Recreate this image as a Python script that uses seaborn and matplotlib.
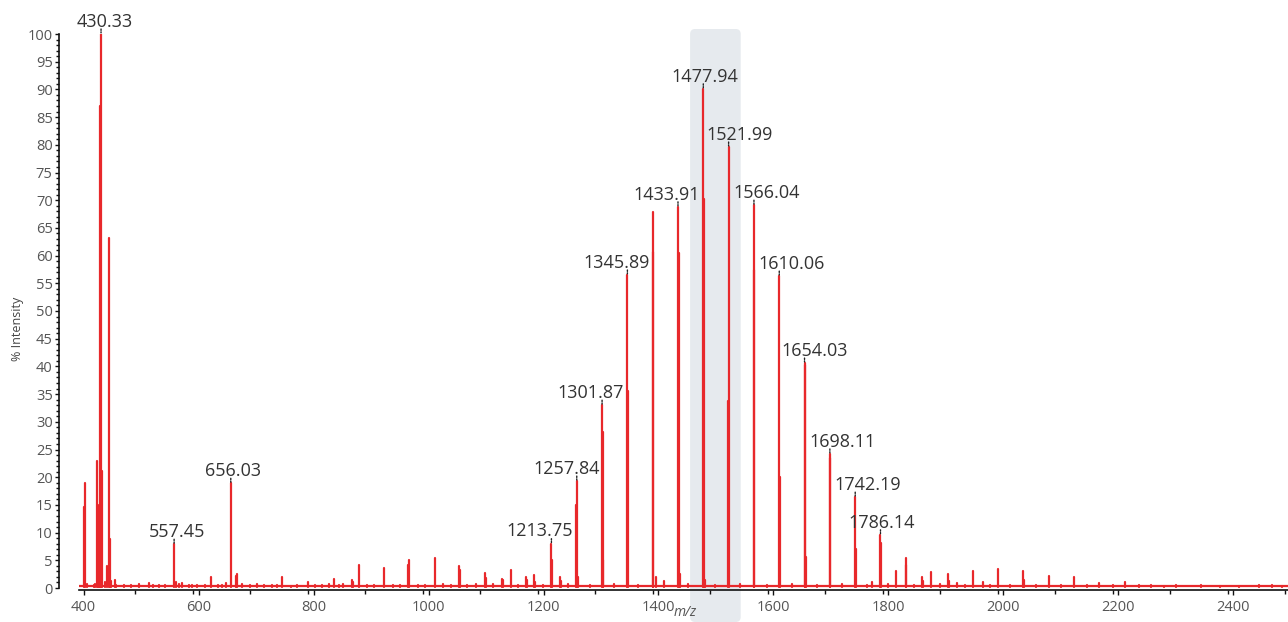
import numpy as np
import pandas as pd
import matplotlib
matplotlib.use("Agg")
import matplotlib.pyplot as plt
import seaborn as sns
from matplotlib.patches import FancyBboxPatch
from matplotlib.ticker import MultipleLocator, FixedLocator
import matplotlib.transforms as mtransforms

sns.set_theme(style="white")
plt.rcParams["font.family"] = ["Open Sans", "DejaVu Sans"]

# ---- spectrum peaks: m/z and % intensity ----
peak_mz = [
    401.0, 403.3, 405.5, 418.0, 420.5, 423.3, 425.4, 427.5, 429.2, 430.33,
    432.6, 436.5, 441.0, 443.6, 445.6, 448.0, 454.0, 457.0,
    514.5, 520.0, 557.45, 560.0, 566.5, 572.0, 589.0, 612.0, 622.0, 640.0,
    648.0, 656.03, 664.5, 666.3, 702.0, 728.0, 745.0, 760.0, 790.2,
    826.7, 834.8, 845.0, 867.3, 869.0, 878.3, 922.3, 964.8, 966.3, 981.4,
    1010.4, 1052.7, 1054.2, 1083.0, 1098.6, 1100.0, 1127.5, 1129.0, 1142.6,
    1169.9, 1171.5, 1184.3, 1186.0, 1213.75, 1215.0, 1228.5, 1230.0,
    1256.5, 1257.84, 1260.0,
    1301.87, 1302.9, 1304.0, 1345.89, 1346.9, 1389.9, 1390.9, 1396.0,
    1433.91, 1434.9, 1438.0, 1477.94, 1478.9, 1481.0, 1520.9, 1521.99,
    1566.04, 1567.0, 1610.06, 1611.0, 1654.03, 1655.0, 1657.0,
    1698.11, 1699.1, 1742.19, 1743.2, 1771.6, 1786.14, 1787.3,
    1813.0, 1829.8, 1831.0, 1858.0, 1859.5, 1874.0, 1904.3, 1906.0, 1919.0,
    1947.5, 1963.8, 1991.3, 2034.8, 2036.5, 2080.0, 2123.5, 2167.0, 2212.0,
]
peak_int = [
    14.7, 19.0, 0.8, 0.6, 0.8, 23.0, 14.9, 5.0, 87.0, 100.0,
    21.1, 1.0, 3.9, 63.2, 8.8, 1.2, 1.5, 0.6,
    0.9, 0.6, 7.9, 1.0, 0.8, 0.9, 0.6, 0.5, 1.9, 0.6,
    0.9, 18.9, 2.2, 2.6, 0.7, 0.5, 1.9, 0.4, 1.1,
    0.8, 1.6, 0.6, 1.4, 1.0, 4.2, 3.7, 4.2, 5.1, 0.5,
    5.4, 4.0, 3.2, 0.7, 2.7, 1.8, 1.6, 1.4, 3.2,
    1.9, 1.5, 2.3, 1.0, 8.0, 5.0, 1.9, 1.3,
    15.0, 19.3, 2.0,
    33.0, 28.2, 5.0, 56.5, 35.6, 67.9, 60.7, 1.9,
    68.8, 60.5, 2.5, 90.1, 70.2, 1.5, 33.8, 79.6,
    69.1, 57.4, 56.3, 20.0, 40.6, 40.3, 5.6,
    24.2, 23.5, 16.4, 7.0, 1.1, 9.6, 8.1,
    3.1, 4.2, 5.5, 1.9, 1.2, 2.8, 2.5, 1.2, 0.9,
    3.1, 1.0, 3.4, 3.1, 1.4, 2.2, 1.9, 0.85, 1.0,
]

# low-level background bumps along the baseline
noise_mz = [
    470, 482, 497, 531, 541, 584, 598, 633, 676, 690, 714, 737, 771, 803,
    815, 851, 893, 905, 938, 951, 993, 1025, 1039, 1067, 1113, 1156, 1199,
    1242, 1280, 1322, 1364, 1410, 1452, 1498, 1541, 1589, 1632, 1676, 1719,
    1762, 1799, 1845, 1889, 1933, 1976, 2012, 2056, 2101, 2145, 2190, 2236,
    2257, 2280, 2300, 2344, 2376, 2410, 2445, 2468, 2485,
]
noise_int = [
    0.6, 0.5, 0.7, 0.5, 0.6, 0.5, 0.6, 0.5, 0.7, 0.6, 0.5, 0.6, 0.5, 0.6,
    0.5, 0.7, 0.6, 0.5, 0.6, 0.5, 0.6, 0.7, 0.5, 0.6, 0.7, 0.6, 0.5,
    0.7, 0.6, 0.8, 0.6, 1.2, 0.7, 0.6, 0.7, 0.6, 0.8, 0.6, 0.7,
    0.6, 0.7, 0.6, 0.7, 0.6, 0.5, 0.6, 0.5, 0.6, 0.5, 0.6, 0.6,
    0.5, 0.4, 0.5, 0.6, 0.4, 0.4, 0.6, 0.5, 0.4,
]
baseline_level = 0.35

# annotated peaks and their horizontal label nudges (pixels)
label_mz = [430.33, 557.45, 656.03, 1213.75, 1257.84, 1301.87, 1345.89,
            1433.91, 1477.94, 1521.99, 1566.04, 1610.06, 1654.03, 1698.11,
            1742.19, 1786.14]
label_dx = [3.5, 3, 2, -12, -10, -11, -11, -11, 2, 11, 13, 12, 10, 13, 13, 1]

# highlighted m/z window
band_lo, band_hi = 1455, 1543

x_min, x_max = 392, 2495
red = "#e8282b"
text_col = "#333333"
tick_col = "#555555"

W, H = 1288, 622
fig = plt.figure(figsize=(W / 100, H / 100), dpi=100)
ax_l, ax_r, ax_b, ax_t = 79, 1288, 588, 34
ax = fig.add_axes([ax_l / W, (H - ax_b) / H, (ax_r - ax_l) / W, (ax_b - ax_t) / H])

# highlight band spanning from above the plot down to the figure bottom
trans = mtransforms.blended_transform_factory(ax.transData, ax.transAxes)
px_per_unit = (ax_r - ax_l) / (x_max - x_min)
ax_h = ax_b - ax_t
y0 = (ax_b - H) / ax_h
y1 = (ax_b - 29) / ax_h
r_data = 5 / px_per_unit
band = FancyBboxPatch((band_lo, y0), band_hi - band_lo, y1 - y0,
                      boxstyle=f"round,pad=0,rounding_size={r_data}",
                      mutation_aspect=(5 / ax_h) / r_data,
                      transform=trans, facecolor="#e6eaee", edgecolor="none",
                      clip_on=False, zorder=0)
ax.add_patch(band)

# stick spectrum: each peak is a vertical segment from the baseline
all_mz = list(peak_mz) + list(noise_mz)
all_int = list(peak_int) + list(noise_int)
rows = []
for i, (m, h) in enumerate(zip(all_mz, all_int)):
    rows.append({"stick": i, "mz": m, "intensity": baseline_level * 0.3})
    rows.append({"stick": i, "mz": m, "intensity": h})
sticks = pd.DataFrame(rows)

base = pd.DataFrame({"mz": [x_min, x_max], "intensity": [baseline_level, baseline_level]})
sns.lineplot(data=base, x="mz", y="intensity", color=red, lw=1.6, ax=ax,
             estimator=None, zorder=2)
sns.lineplot(data=sticks, x="mz", y="intensity", units="stick", estimator=None,
             color=red, lw=1.6, ax=ax, legend=False, zorder=3)

ax.set_xlim(x_min, x_max)
ax.set_ylim(0, 100)

# peak labels with a short dotted leader
lookup = dict(zip(peak_mz, peak_int))
for m, dx in zip(label_mz, label_dx):
    h = lookup[m]
    ax.annotate(f"{m:.2f}", xy=(m, h), xytext=(dx * 0.72, 5.2),
                textcoords="offset points", ha="center", va="baseline",
                fontsize=13, color=text_col, annotation_clip=False, zorder=5)
    ax.annotate("", xy=(m, h), xytext=(0, 3.6), textcoords="offset points",
                arrowprops=dict(arrowstyle="-", color="#222222", lw=1.0,
                                ls=(0, (1, 1)), shrinkA=0, shrinkB=0.8),
                annotation_clip=False, zorder=5)

# axes styling
for s in ("top", "right"):
    ax.spines[s].set_visible(False)
ax.spines["left"].set_position(("outward", 20 * 0.72))
ax.spines["left"].set_bounds(0, 100)
ax.spines["bottom"].set_position(("outward", 2 * 0.72))
for s in ("left", "bottom"):
    ax.spines[s].set_color("#111111")
    ax.spines[s].set_linewidth(1.2)

ax.xaxis.set_major_locator(FixedLocator(np.arange(400, 2401, 200)))
ax.xaxis.set_minor_locator(FixedLocator(np.arange(490, 2491, 100)))
ax.yaxis.set_major_locator(MultipleLocator(5))
ax.yaxis.set_minor_locator(MultipleLocator(1))
ax.tick_params(axis="both", which="both", bottom=True, left=True,
               direction="out", color="#111111", width=1.0)
ax.tick_params(axis="x", which="major", length=3.5, pad=4, labelsize=10.5,
               labelcolor=tick_col)
ax.tick_params(axis="x", which="minor", length=3.0)
ax.tick_params(axis="y", which="major", length=3.0, pad=1.5, labelsize=10.5,
               labelcolor=tick_col)
ax.tick_params(axis="y", which="minor", length=2.0)
ax.grid(False)

ax.set_ylabel("% Intensity", fontsize=9, color="#444444")
ax.yaxis.set_label_coords((17 - ax_l) / (ax_r - ax_l), (ax_b - 329) / ax_h)
ax.yaxis.label.set_va("center")
ax.set_xlabel("m/z", fontsize=10, color="#555555", style="italic")
ax.xaxis.set_label_coords((685 - ax_l) / (ax_r - ax_l), (ax_b - 612) / ax_h)
ax.xaxis.label.set_va("center")

fig.savefig("out.png", dpi=100)
